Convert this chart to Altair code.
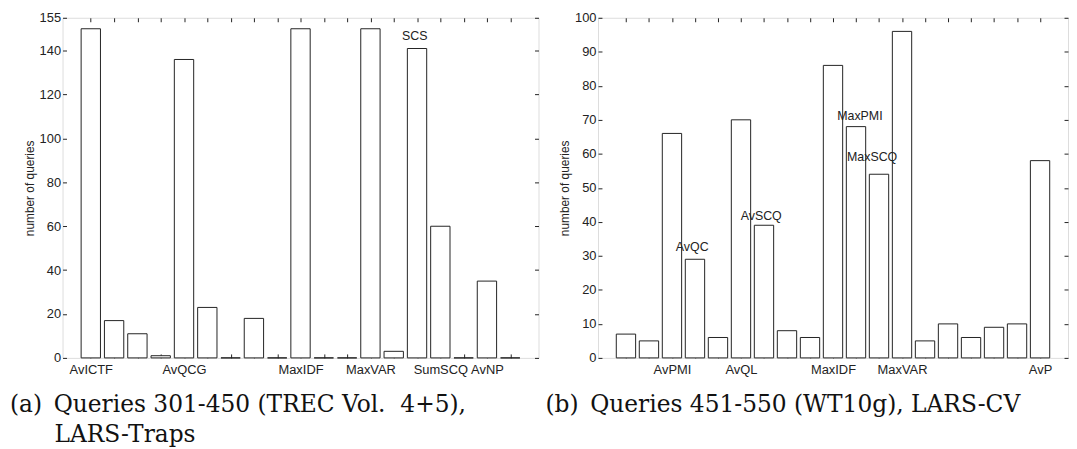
import altair as alt
import pandas as pd

positions = list(range(1, 20))

left_values = [150, 17, 11, 1, 136, 23, 0, 18, 0, 150, 0, 0, 150, 3, 141, 60, 0, 35, 0]
left_names = {1: "AvICTF", 5: "AvQCG", 10: "MaxIDF", 13: "MaxVAR", 16: "SumSCQ", 18: "AvNP"}
left_yticks = [0, 20, 40, 60, 80, 100, 120, 140, 155]
left_ann_text = ["SCS"]
left_ann_x = [14.9]
left_ann_y = [146.5]

right_values = [7, 5, 66, 29, 6, 70, 39, 8, 6, 86, 68, 54, 96, 5, 10, 6, 9, 10, 58]
right_names = {3: "AvPMI", 6: "AvQL", 10: "MaxIDF", 13: "MaxVAR", 19: "AvP"}
right_yticks = [0, 10, 20, 30, 40, 50, 60, 70, 80, 90, 100]
right_ann_text = ["AvQC", "AvSCQ", "MaxPMI", "MaxSCQ"]
right_ann_x = [3.88, 6.88, 11.17, 11.7]
right_ann_y = [32.6, 41.7, 71.1, 59.0]

caption_a = ["(a)\u2002Queries 301-450 (TREC Vol.\u00a0 4+5),",
             "\u200b" + "\u00a0" * 6 + "LARS-Traps"]
caption_b = ["(b)\u2002Queries 451-550 (WT10g), LARS-CV"]

SANS = "Liberation Sans"
SERIF = "DejaVu Serif"
INK = "#222222"


def label_expr(names):
    expr = "''"
    for k in sorted(names, reverse=True):
        expr = f"datum.value == {k} ? '{names[k]}' : ({expr})"
    return expr


def panel(values, ymax, yticks, names, ann_text, ann_x, ann_y, width, caption):
    df = pd.DataFrame({"pos": positions, "count": values})
    ann = pd.DataFrame({"pos": ann_x, "count": ann_y, "label": ann_text})
    xscale = alt.Scale(domain=[0, 20], nice=False, zero=False)
    yscale = alt.Scale(domain=[0, ymax], nice=False)

    bars = alt.Chart(df).mark_bar(size=19.5, fill="white", stroke=INK, strokeWidth=1).encode(
        x=alt.X("pos:Q", scale=xscale,
                axis=alt.Axis(orient="bottom", values=positions, labelExpr=label_expr(names),
                              tickSize=4, offset=-4, domain=False, grid=False, title=None,
                              labelPadding=6, labelOverlap=False, labelFlush=False,
                              labelFont=SANS, labelFontSize=13,
                              labelColor=INK, tickColor=INK)),
        y=alt.Y("count:Q", scale=yscale,
                axis=alt.Axis(orient="left", values=yticks, tickSize=4, offset=-4,
                              domain=False, grid=False, title="number of queries",
                              labelPadding=2, labelFont=SANS, labelFontSize=13,
                              labelColor=INK, tickColor=INK, labelOverlap=False,
                              titleFont=SANS, titleFontSize=12, titleFontWeight="normal",
                              titleColor=INK, titlePadding=3)),
    )
    texts = alt.Chart(ann).mark_text(font=SANS, fontSize=12.5, color=INK, baseline="middle").encode(
        x=alt.X("pos:Q", scale=xscale,
                axis=alt.Axis(orient="top", values=positions, labels=False, tickSize=4,
                              offset=-4, domain=False, grid=False, title=None, tickColor=INK)),
        y=alt.Y("count:Q", scale=yscale,
                axis=alt.Axis(orient="right", values=yticks, labels=False, tickSize=4,
                              offset=-4, domain=False, grid=False, title=None, tickColor=INK)),
        text="label:N",
    )
    return (
        alt.layer(bars, texts)
        .resolve_axis(x="independent", y="independent")
        .properties(
            width=width,
            height=343,
            title=alt.TitleParams(
                caption, orient="bottom", anchor="start", frame="group", dx=-53,
                offset=17, font=SERIF, fontSize=23.5, fontWeight="normal",
                color="#111111", lineHeight=30,
            ),
        )
    )


left = panel(left_values, 155, left_yticks, left_names, left_ann_text, left_ann_x, left_ann_y,
             480, caption_a)
right = panel(right_values, 100, right_yticks, right_names, right_ann_text, right_ann_x,
              right_ann_y, 474, caption_b)

chart = (
    alt.hconcat(left, right, spacing=5)
    .properties(padding={"left": 1, "top": 1, "right": 0, "bottom": 0})
    .configure_view(stroke="black", strokeWidth=1)
    .configure(background="white")
)

chart.save("out.html", embed_options={"renderer": "svg", "actions": False})
